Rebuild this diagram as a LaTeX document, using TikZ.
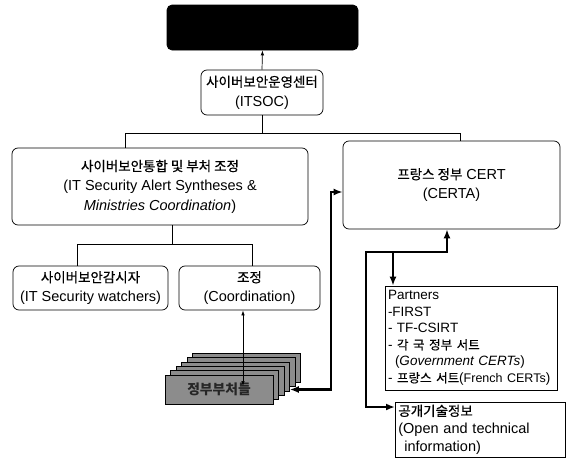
\documentclass[tikz,border=0pt]{standalone}
\usepackage{fontspec}
\setmainfont{Liberation Sans}
\newfontfamily\kr[Scale=0.93,FakeBold=0.5]{Noto Sans CJK KR}
\newfontfamily\krb[Scale=0.92]{Noto Sans CJK KR}
\usetikzlibrary{arrows.meta}
\begin{document}
\begin{tikzpicture}[x=1pt,y=-1pt,
  box/.style={draw, line width=0.7pt, rounded corners=6pt, align=center, inner sep=0pt,
    font=\fontsize{14.5}{19.5}\selectfont},
  sqbox/.style={draw, line width=0.7pt, align=left, inner xsep=3pt, inner ysep=0pt,
    font=\fontsize{13.5}{16.5}\selectfont},
  card/.style={draw, line width=0.6pt, fill=black!45, minimum width=108, minimum height=29, inner sep=0pt},
  thinln/.style={line width=0.7pt},
  thickln/.style={line width=2.4pt},
  smalltip/.style={-{Latex[length=5pt,width=3.5pt]}},
  bigtip/.style={-{Latex[length=9pt,width=7pt]}},
  bigtips/.style={{Latex[length=9pt,width=7pt]}-{Latex[length=9pt,width=7pt]}}
]
\useasboundingbox (0,0) rectangle (566,458);

% boxes
\node[box, fill=black, rounded corners=5pt, minimum width=191, minimum height=45] (top) at (262.5,27.5) {};
\node[box, minimum width=122, minimum height=45] (itsoc) at (262,92.5)
  {{\kr 사이버보안운영센터}\\(ITSOC)};
\node[box, minimum width=296, minimum height=77] (left) at (160,186.5)
  {{\kr 사이버보안통합 및 부처 조정}\\(IT Security Alert Syntheses \&\\\textit{Ministries Coordination})};
\node[box, minimum width=217, minimum height=88] (certa) at (451.5,185)
  {{\kr 프랑스 정부} CERT\\(CERTA)};
\node[box, minimum width=155, minimum height=44] (watch) at (90.5,288)
  {{\kr 사이버보안감시자}\\(IT Security watchers)};
\node[box, minimum width=141, minimum height=44] (coord) at (249.5,288)
  {{\kr 조정}\\(Coordination)};
\node[sqbox, text width=166, minimum height=104] (partners) at (471,338)
  {Partners\\-FIRST\\- TF-CSIRT\\- {\kr 각 국 정부 서트}\\\hspace*{7pt}(\textit{Government CERTs})\\- {\kr 프랑스 서트}({\fontsize{12.5}{16.5}\selectfont French CERTs})};
\node[sqbox, font=\fontsize{14.5}{18}\selectfont, text width=164, minimum height=55, anchor=north west] (open) at (395,402)
  {{\kr 공개기술정보}\\(Open and technical\\\hspace*{6pt}information)};

% stack of cards
\foreach \i in {5,4,...,1}{
  \node[card] (card\i) at (219+5.5*\i, 389.5-4.4*\i) {};
}
\node[card, font=\krb\bfseries\fontsize{15}{15}\selectfont, text=black!85] (stack) at (219,389.5) {정부부처들};

% thin connectors
\coordinate (jl) at (125,133);
\coordinate (jr) at (460,133);
\coordinate (kl) at (77,244);
\coordinate (kr) at (252,244);
\coordinate (kc) at (172,244);
\draw[thinln, smalltip] (itsoc.north) -- (top.south);
\draw[thinln] (itsoc.south) -- (itsoc.south |- jl);
\draw[thinln] (jl |- left.north) -- (jl) -- (jr) -- (jr |- certa.north);
\draw[thinln] (kc |- left.south) -- (kc);
\draw[thinln] (kl |- watch.north) -- (kl) -- (kr) -- (kr |- coord.north);
\coordinate (ca) at (243,386);
\draw[thinln, {Latex[length=5pt,width=3.5pt]}-{Latex[length=5pt,width=3.5pt]}] (ca) -- (ca |- coord.south);

% thick connectors
\coordinate (k1) at (331,192);
\draw[thickln, bigtips] (card3.east |- stack.east) -| (k1) -- (k1 -| certa.west);
\coordinate (c1) at (447,252);
\coordinate (c2) at (366,252);
\coordinate (c3) at (393,252);
\coordinate (oy) at (0,407);
\draw[thickln, bigtips] (open.west |- oy) -| (c2) -- (c1) -- (c1 |- certa.south);
\draw[thickln, bigtip] (c3) -- (c3 |- partners.north);
\end{tikzpicture}
\end{document}
